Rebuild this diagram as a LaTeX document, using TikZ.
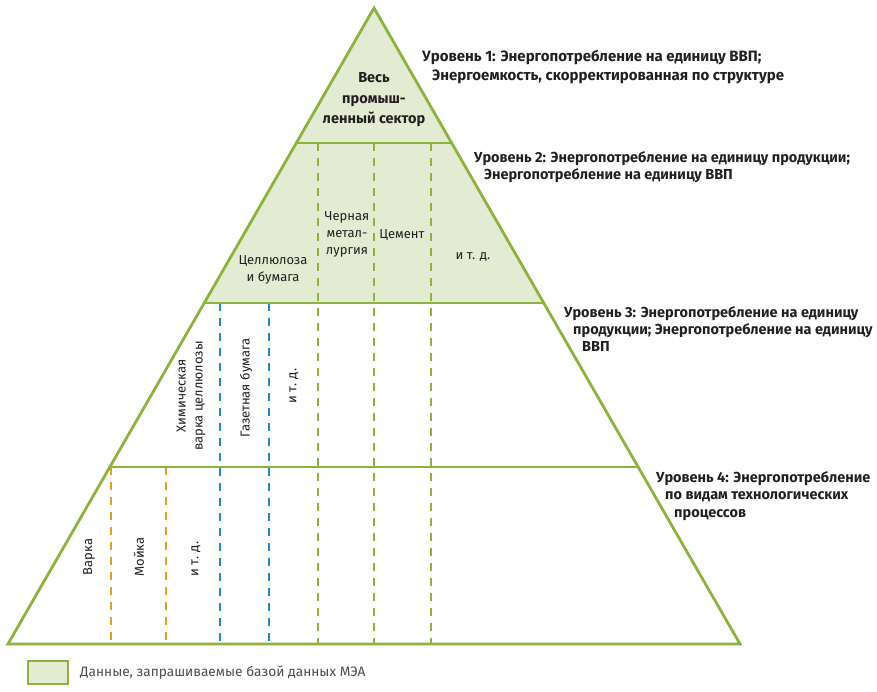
\documentclass[tikz,border=0pt]{standalone}
\usepackage{fontspec}
\setmainfont{Fira Sans}
\usetikzlibrary{calc}
\definecolor{pyrgreen}{HTML}{8DB33F}
\definecolor{pyrfill}{HTML}{E3EBD2}
\definecolor{pyrblue}{HTML}{1C8CD2}
\definecolor{pyrorange}{HTML}{E0A125}
\definecolor{pyrtext}{HTML}{231F20}

\begin{document}
\begin{tikzpicture}[x=1pt,y=-1pt,
    edge/.style={pyrgreen,line width=2.8pt},
    sep/.style={line width=2.6pt,dash pattern=on 8pt off 7pt},
    lvl/.style={anchor=base west,align=left,font=\fontsize{14.5}{17}\selectfont\bfseries,text=pyrtext,inner sep=0pt},
    cell/.style={align=center,font=\fontsize{13}{17}\selectfont,text=pyrtext,inner sep=0pt},
    vcell/.style={cell,rotate=90}]
  \useasboundingbox (0,0) rectangle (877,692);
  % corners of the pyramid
  \coordinate (top) at (374,8);
  \coordinate (bl) at (8,644);
  \coordinate (br) at (740,644);
  % shaded part (levels 1 and 2)
  \fill[pyrfill] (top) -- (204,303) -- (544,303) -- cycle;
  % dashed separators
  \foreach \x in {318,374,431} \draw[sep,pyrgreen] (\x,143) -- (\x,644);
  \foreach \x in {220,269} \draw[sep,pyrblue] (\x,303) -- (\x,644);
  \foreach \x in {111,166} \draw[sep,pyrorange] (\x,467) -- (\x,644);
  % level borders
  \draw[edge] (296,143) -- (452,143);
  \draw[edge] (204,303) -- (544,303);
  \draw[edge] (109,467) -- (638,467);
  \draw[edge,line join=miter] (bl) -- (top) -- (br) -- cycle;
  % level 1
  \node[cell,font=\fontsize{14.5}{20.5}\selectfont\bfseries] (all) at (374,100) {Весь\\промыш-\\ленный сектор};
  % level 2
  \node[cell] (pulp) at (273,270) {Целлюлоза\\и бумага};
  \node[cell] (steel) at (347,234) {Черная\\метал-\\лургия};
  \node[cell] (cement) at (402,235) {Цемент};
  \node[cell] (etc2) at (473,257) {и т. д.};
  % level 3
  \node[vcell] (chem) at (191,396) {Химическая\\варка целлюлозы};
  \node[vcell] (news) at (246,388) {Газетная бумага};
  \node[vcell] (etc3) at (294,386) {и т. д.};
  % level 4
  \node[vcell] (cook) at (89,557) {Варка};
  \node[vcell] (wash) at (139,557) {Мойка};
  \node[vcell] (etc4) at (196,559) {и т. д.};
  % level labels (anchored on the baseline of the last line)
  \node[lvl,font=\fontsize{15}{19}\selectfont\bfseries] (l1) at (422,81) {Уровень 1: Энергопотребление на единицу ВВП;\\
    \hspace*{10pt}Энергоемкость, скорректированная по структуре};
  \node[lvl] (l2) at (474,180) {Уровень 2: Энергопотребление на единицу продукции;\\
    \hspace*{10pt}Энергопотребление на единицу ВВП};
  \node[lvl] (l3) at (564,351) {Уровень 3: Энергопотребление на единицу\\
    \hspace*{9pt}продукции; Энергопотребление на единицу\\
    \hspace*{18pt}ВВП};
  \node[lvl,font=\fontsize{14.5}{17.5}\selectfont\bfseries] (l4) at (656,517) {Уровень 4: Энергопотребление\\
    \hspace*{9pt}по видам технологических\\
    \hspace*{18pt}процессов};
  % legend
  \draw[pyrgreen,fill=pyrfill,line width=1.6pt] (28,661) rectangle (68,684);
  \node[anchor=west,inner sep=0pt,font=\fontsize{13.7}{17}\selectfont,text=pyrtext!80] (key) at (80,673) {Данные, запрашиваемые базой данных МЭА};
\end{tikzpicture}
\end{document}
